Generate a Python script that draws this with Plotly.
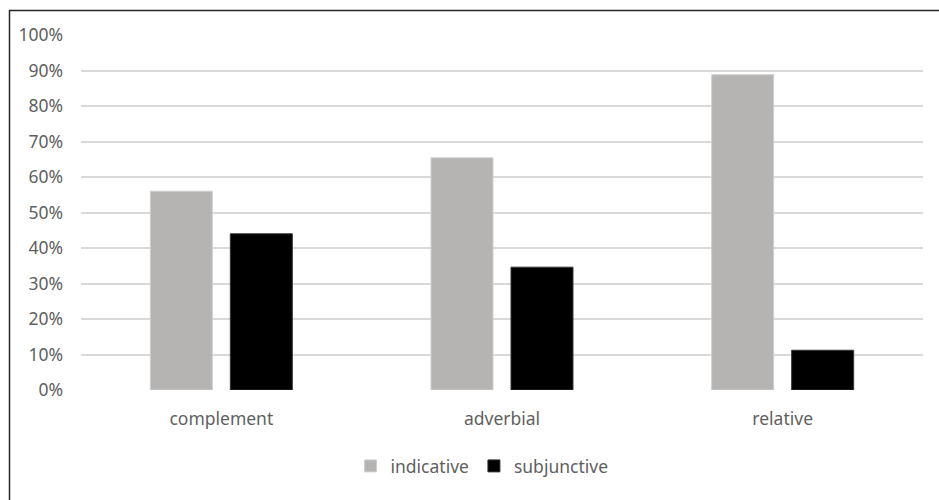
import plotly.graph_objects as go

categories = ["complement", "adverbial", "relative"]
indicative = [56.0, 65.4, 88.8]
subjunctive = [44.0, 34.6, 11.2]
tick_vals = [0, 10, 20, 30, 40, 50, 60, 70, 80, 90, 100]
tick_text = [f"{v}%" for v in tick_vals]

FONT = "Noto Sans"
TXT = "#5f5f5f"
FS = 17.5

fig = go.Figure()
fig.add_trace(go.Bar(name="indicative", x=categories, y=indicative,
                     marker=dict(color="#b5b4b2", line=dict(color="#d0cfcd", width=1))))
fig.add_trace(go.Bar(name="subjunctive", x=categories, y=subjunctive,
                     marker=dict(color="#000000", line=dict(color="#333333", width=1))))

L, R, T, B = 81, 923, 35, 390
W, H = R - L, B - T
def px(x):
    return (x - L) / W
def py(y):
    return (B - y) / H

fig.update_layout(
    width=939, height=500,
    margin=dict(l=L, r=939 - R, t=T, b=500 - B),
    paper_bgcolor="white", plot_bgcolor="white",
    barmode="group", bargap=0.43, bargroupgap=0.225,
    font=dict(family=FONT, size=FS, color=TXT),
    showlegend=True,
    legend=dict(orientation="h", x=px(482), xanchor="center", y=py(466), yanchor="middle",
                font=dict(family=FONT, size=FS, color=TXT), itemwidth=30,
                tracegroupgap=0, itemclick=False),
    xaxis=dict(showgrid=False, showline=False, zeroline=False, ticks="",
               ticklabelstandoff=16, tickfont=dict(size=FS, color=TXT)),
    yaxis=dict(range=[0, 100], tickvals=tick_vals, ticktext=tick_text,
               showgrid=True, gridcolor="#d9d9d9", gridwidth=1.5,
               zeroline=False, showline=False, ticks="",
               ticklabelstandoff=17, tickfont=dict(size=FS, color=TXT)),
    shapes=[
        dict(type="line", xref="paper", yref="paper", x0=px(9.5), x1=px(9.5),
             y0=py(10), y1=py(502), line=dict(color="#262626", width=1.5)),
        dict(type="line", xref="paper", yref="paper", x0=px(9), x1=px(942),
             y0=py(10.5), y1=py(10.5), line=dict(color="#262626", width=1.5)),
    ],
)

fig.write_html("out.html", config={"displayModeBar": False},
               post_script="document.body.style.margin='0';document.body.style.overflow='hidden';")
